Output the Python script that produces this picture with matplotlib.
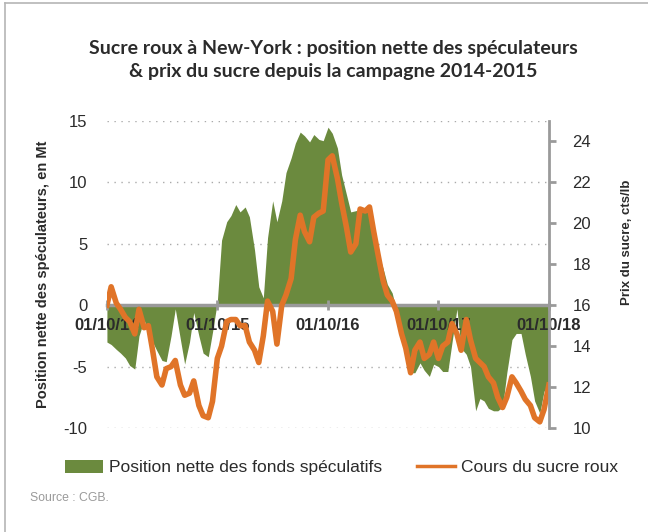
import matplotlib
matplotlib.use("Agg")
import matplotlib.pyplot as plt
import matplotlib.dates as mdates
from matplotlib.lines import Line2D
from matplotlib.patches import Patch
import pandas as pd

# semi-monthly readings, 01/10/2014 -> 01/10/2018
dates = pd.date_range("2014-10-01", "2018-10-01", freq="SMS")

# net position of speculators (Mt)
position = [
    -3.0, -3.2, -3.6, -3.9, -4.3, -4.9, -5.2, -2.5, -1.2, -2.2,
    -3.0, -3.7, -4.5, -4.6, -2.5, -0.3, -2.8, -4.8, -3.0, -0.6,
    -2.5, -3.9, -4.2, -2.2, 0.3, 5.3, 6.8, 7.3, 8.2, 7.6,
    8.0, 7.2, 4.5, 1.5, 0.6, 5.5, 8.5, 6.8, 8.5, 10.8,
    12.0, 13.2, 14.1, 13.8, 13.3, 13.9, 13.5, 13.4, 14.5, 14.0,
    12.8, 10.6, 9.0, 7.6, 7.7, 7.8, 7.9, 7.8, 6.5, 4.3,
    3.0, 1.7, 1.0, -0.4, -2.5, -4.5, -5.5, -5.5, -4.7, -5.3,
    -5.8, -4.8, -5.0, -5.4, -5.4, -3.0, -0.3, -3.5, -4.0, -5.0,
    -8.6, -7.6, -7.8, -8.4, -8.6, -8.6, -8.3, -5.5, -2.8, -2.3,
    -2.3, -4.0, -5.8, -7.8, -8.8, -7.0, -6.5,
]

# raw sugar price (cts/lb)
price = [
    16.0, 16.9, 16.1, 15.8, 15.4, 15.2, 14.6, 15.8, 14.9, 15.0,
    13.8, 12.5, 12.1, 12.9, 13.0, 13.3, 12.1, 11.6, 11.7, 12.3,
    11.1, 10.6, 10.5, 11.3, 13.4, 14.0, 15.2, 15.3, 15.3, 15.0,
    15.0, 14.2, 13.8, 13.2, 14.5, 16.2, 15.7, 14.1, 16.0, 16.5,
    17.3, 19.2, 20.4, 19.6, 19.1, 20.3, 20.5, 20.6, 23.1, 23.3,
    22.2, 21.0, 19.8, 18.6, 19.0, 20.7, 20.6, 20.8, 19.6, 18.5,
    17.2, 16.5, 16.2, 15.7, 14.6, 13.9, 12.7, 13.8, 14.2, 13.4,
    13.6, 14.2, 13.4, 14.0, 14.2, 15.1, 14.6, 13.8, 15.3, 14.3,
    13.4, 13.2, 13.0, 12.5, 12.2, 11.5, 11.0, 11.5, 12.5, 12.2,
    11.8, 11.4, 11.1, 10.5, 10.3, 10.9, 12.1,
]

year_ticks = pd.to_datetime(["2014-10-01", "2015-10-01", "2016-10-01",
                             "2017-10-01", "2018-10-01"])
grid_levels = [-10, -5, 5, 10, 15]

green = "#6b8a3e"
orange = "#e07428"
gray = "#9a9a9a"
txt = "#2b2b2b"

plt.rcParams["font.family"] = ["Liberation Sans", "DejaVu Sans"]
plt.rcParams["axes.unicode_minus"] = False

fig = plt.figure(figsize=(6.48, 5.32), dpi=100)
ax = fig.add_axes([0.165, 0.1955, 0.682, 0.577])

for g in grid_levels:
    ax.axhline(g, linestyle=(0, (1, 4)), color="#aaaaaa", linewidth=1, zorder=0.5)
ax.fill_between(dates, 0, position, color=green, linewidth=0, zorder=1)
ax.set_ylim(-10, 15)
ax.set_yticks([-10, -5, 0, 5, 10, 15])
ax.set_xlim(year_ticks[0], year_ticks[-1])

for s in ["left", "top", "right"]:
    ax.spines[s].set_visible(False)
ax.spines["bottom"].set_position(("data", 0))
ax.spines["bottom"].set_color(gray)
ax.spines["bottom"].set_linewidth(2.5)

ax.set_xticks(year_ticks)
ax.xaxis.set_major_formatter(mdates.DateFormatter("%d/%m/%y"))
ax.tick_params(axis="x", direction="inout", length=7, width=2, color=gray,
               labelsize=12, pad=6, labelcolor=txt)
for lab in ax.get_xticklabels():
    lab.set_fontweight("bold")
ax.tick_params(axis="y", length=0, labelsize=12, pad=14, labelcolor=txt)
ax.set_ylabel("Position nette des spéculateurs, en Mt", fontsize=10.5,
              fontweight="bold", color=txt)
ax.yaxis.set_label_coords(-0.128, 0.5)

ax2 = ax.twinx()
ax2.plot(dates, price, color=orange, linewidth=4, solid_joinstyle="round")
ax2.set_ylim(10, 25)
ax2.set_yticks([10, 12, 14, 16, 18, 20, 22, 24])
for s in ["left", "top", "bottom"]:
    ax2.spines[s].set_visible(False)
ax2.spines["right"].set_color(gray)
ax2.spines["right"].set_linewidth(2)
ax2.tick_params(axis="y", direction="out", length=5, width=2, color=gray,
                labelsize=12, pad=12, labelcolor=txt)
ax2.set_ylabel("Prix du sucre, cts/lb", fontsize=9.5, fontweight="bold",
               color=txt, rotation=90)
ax2.yaxis.set_label_coords(1.163, 0.606)

fig.text(0.514, 0.887, "Sucre roux à New-York : position nette des spéculateurs\n"
         "& prix du sucre depuis la campagne 2014-2015",
         ha="center", va="center", fontsize=14, fontweight="bold",
         family="Lato", color=txt, linespacing=1.4)

handles = [Patch(facecolor=green, edgecolor="none"),
           Line2D([0], [0], color=orange, linewidth=2.5)]
fig.legend(handles, ["Position nette des fonds spéculatifs", "Cours du sucre roux"],
           loc="center", bbox_to_anchor=(0.527, 0.121), ncol=2, frameon=False,
           fontsize=12.5, handlelength=2.2, handleheight=0.8, handletextpad=0.35,
           columnspacing=2.0, labelcolor=txt)

fig.text(0.046, 0.058, "Source : CGB.", fontsize=8.8, color="#9a9a9a")

# page frame (left and top edges)
fig.add_artist(Line2D([0.008, 0.008], [0, 0.994], color="#b5b5b5", linewidth=1.2,
                      transform=fig.transFigure))
fig.add_artist(Line2D([0.008, 1], [0.994, 0.994], color="#b5b5b5", linewidth=1.2,
                      transform=fig.transFigure))

fig.savefig("out.png", dpi=100)
